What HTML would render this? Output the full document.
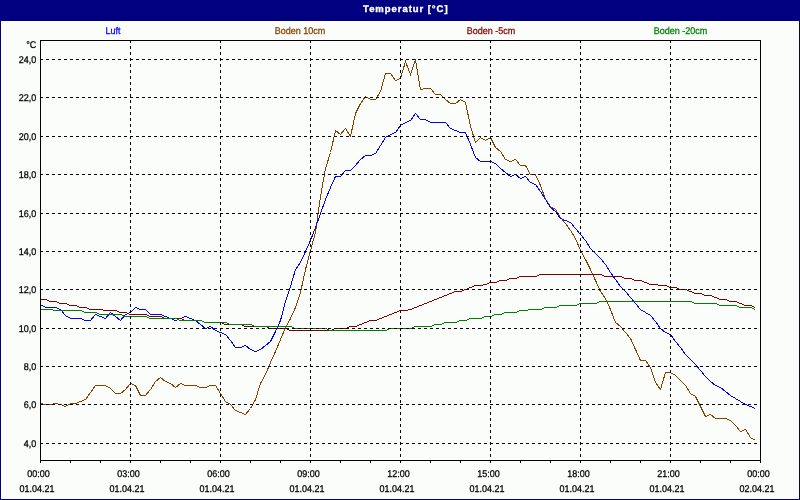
<!DOCTYPE html>
<html><head><meta charset="utf-8"><style>
html,body{margin:0;padding:0;}
body{width:800px;height:500px;background:#000080;overflow:hidden;}
svg{display:block;}
text{font-family:"Liberation Sans",sans-serif;}
</style></head><body>
<svg width="800" height="500" viewBox="0 0 800 500">
<rect x="0" y="0" width="800" height="500" fill="#000080"/>
<rect x="1" y="21" width="798" height="478" fill="#ffffff"/>
<rect x="2" y="22" width="796" height="476" fill="#fbfdfb"/>
<g style="will-change:transform;text-rendering:geometricPrecision"><text transform="translate(405.8,11.6)" text-anchor="middle" fill="#ffffff" stroke="#ffffff" stroke-width="0.35" font-size="9.5" letter-spacing="0.95" font-weight="bold">Temperatur [°C]</text></g>
<g font-size="9" style="will-change:transform;text-rendering:geometricPrecision">
<text transform="translate(113,34) scale(1,1.08)" text-anchor="middle" fill="#0000ff" stroke="#0000ff" stroke-width="0.25">Luft</text>
<text transform="translate(300,34) scale(1,1.08)" text-anchor="middle" fill="#844200" stroke="#844200" stroke-width="0.25">Boden 10cm</text>
<text transform="translate(491,34) scale(1,1.08)" text-anchor="middle" fill="#800000" stroke="#800000" stroke-width="0.25">Boden -5cm</text>
<text transform="translate(680.5,34) scale(1,1.08)" text-anchor="middle" fill="#008000" stroke="#008000" stroke-width="0.25">Boden -20cm</text>
<text transform="translate(36.3,48) scale(1,1.08)" text-anchor="end" fill="#000" stroke="#000" stroke-width="0.25">°C</text>
<text transform="translate(36.3,63) scale(1,1.08)" text-anchor="end" fill="#000" stroke="#000" stroke-width="0.25">24,0</text>
<text transform="translate(36.3,101) scale(1,1.08)" text-anchor="end" fill="#000" stroke="#000" stroke-width="0.25">22,0</text>
<text transform="translate(36.3,140) scale(1,1.08)" text-anchor="end" fill="#000" stroke="#000" stroke-width="0.25">20,0</text>
<text transform="translate(36.3,178) scale(1,1.08)" text-anchor="end" fill="#000" stroke="#000" stroke-width="0.25">18,0</text>
<text transform="translate(36.3,217) scale(1,1.08)" text-anchor="end" fill="#000" stroke="#000" stroke-width="0.25">16,0</text>
<text transform="translate(36.3,255) scale(1,1.08)" text-anchor="end" fill="#000" stroke="#000" stroke-width="0.25">14,0</text>
<text transform="translate(36.3,293) scale(1,1.08)" text-anchor="end" fill="#000" stroke="#000" stroke-width="0.25">12,0</text>
<text transform="translate(36.3,332) scale(1,1.08)" text-anchor="end" fill="#000" stroke="#000" stroke-width="0.25">10,0</text>
<text transform="translate(36.3,370) scale(1,1.08)" text-anchor="end" fill="#000" stroke="#000" stroke-width="0.25">8,0</text>
<text transform="translate(36.3,408) scale(1,1.08)" text-anchor="end" fill="#000" stroke="#000" stroke-width="0.25">6,0</text>
<text transform="translate(36.3,447) scale(1,1.08)" text-anchor="end" fill="#000" stroke="#000" stroke-width="0.25">4,0</text>
<text transform="translate(38.5,477) scale(1,1.08)" text-anchor="middle" fill="#000" stroke="#000" stroke-width="0.25">00:00</text>
<text transform="translate(37.0,492) scale(1,1.08)" text-anchor="middle" fill="#000" stroke="#000" stroke-width="0.25">01.04.21</text>
<text transform="translate(128.5,477) scale(1,1.08)" text-anchor="middle" fill="#000" stroke="#000" stroke-width="0.25">03:00</text>
<text transform="translate(127.0,492) scale(1,1.08)" text-anchor="middle" fill="#000" stroke="#000" stroke-width="0.25">01.04.21</text>
<text transform="translate(218.5,477) scale(1,1.08)" text-anchor="middle" fill="#000" stroke="#000" stroke-width="0.25">06:00</text>
<text transform="translate(217.0,492) scale(1,1.08)" text-anchor="middle" fill="#000" stroke="#000" stroke-width="0.25">01.04.21</text>
<text transform="translate(308.5,477) scale(1,1.08)" text-anchor="middle" fill="#000" stroke="#000" stroke-width="0.25">09:00</text>
<text transform="translate(307.0,492) scale(1,1.08)" text-anchor="middle" fill="#000" stroke="#000" stroke-width="0.25">01.04.21</text>
<text transform="translate(398.5,477) scale(1,1.08)" text-anchor="middle" fill="#000" stroke="#000" stroke-width="0.25">12:00</text>
<text transform="translate(397.0,492) scale(1,1.08)" text-anchor="middle" fill="#000" stroke="#000" stroke-width="0.25">01.04.21</text>
<text transform="translate(488.5,477) scale(1,1.08)" text-anchor="middle" fill="#000" stroke="#000" stroke-width="0.25">15:00</text>
<text transform="translate(487.0,492) scale(1,1.08)" text-anchor="middle" fill="#000" stroke="#000" stroke-width="0.25">01.04.21</text>
<text transform="translate(578.5,477) scale(1,1.08)" text-anchor="middle" fill="#000" stroke="#000" stroke-width="0.25">18:00</text>
<text transform="translate(577.0,492) scale(1,1.08)" text-anchor="middle" fill="#000" stroke="#000" stroke-width="0.25">01.04.21</text>
<text transform="translate(668.5,477) scale(1,1.08)" text-anchor="middle" fill="#000" stroke="#000" stroke-width="0.25">21:00</text>
<text transform="translate(667.0,492) scale(1,1.08)" text-anchor="middle" fill="#000" stroke="#000" stroke-width="0.25">01.04.21</text>
<text transform="translate(758.5,477) scale(1,1.08)" text-anchor="middle" fill="#000" stroke="#000" stroke-width="0.25">00:00</text>
<text transform="translate(757.0,492) scale(1,1.08)" text-anchor="middle" fill="#000" stroke="#000" stroke-width="0.25">02.04.21</text>
</g>
<g fill="none" stroke-width="1" shape-rendering="crispEdges">
<path d="M40.5,403.5 L45.5,404.5 L50.5,404.5 L55.5,403.5 L60.5,404.5 L65.5,406.5 L70.5,403.5 L75.5,403.5 L80.5,401.5 L85.5,399.5 L90.5,392.5 L95.5,385.5 L100.5,385.5 L105.5,385.5 L110.5,388.5 L115.5,393.5 L120.5,393.5 L125.5,389.5 L130.5,383.5 L135.5,385.5 L140.5,395.5 L145.5,395.5 L150.5,389.5 L155.5,381.5 L160.5,377.5 L165.5,381.5 L170.5,383.5 L175.5,387.5 L180.5,383.5 L185.5,385.5 L190.5,385.5 L195.5,385.5 L200.5,387.5 L205.5,387.5 L210.5,385.5 L215.5,385.5 L220.5,393.5 L225.5,401.5 L230.5,404.5 L235.5,410.5 L240.5,412.5 L245.5,414.5 L250.5,408.5 L255.5,399.5 L260.5,383.5 L265.5,374.5 L270.5,362.5 L275.5,351.5 L280.5,339.5 L285.5,327.5 L290.5,318.5 L295.5,307.5 L300.5,292.5 L305.5,269.5 L310.5,250.5 L315.5,232.5 L320.5,196.5 L325.5,168.5 L330.5,152.5 L335.5,130.5 L340.5,134.5 L345.5,128.5 L350.5,136.5 L355.5,113.5 L360.5,103.5 L365.5,96.5 L370.5,99.5 L375.5,99.5 L380.5,91.5 L385.5,73.5 L390.5,73.5 L395.5,80.5 L400.5,78.5 L405.5,61.5 L410.5,74.5 L415.5,59.5 L420.5,89.5 L425.5,88.5 L430.5,88.5 L435.5,94.5 L440.5,94.5 L445.5,99.5 L450.5,103.5 L455.5,103.5 L460.5,99.5 L465.5,102.5 L470.5,126.5 L475.5,142.5 L480.5,137.5 L485.5,140.5 L490.5,137.5 L495.5,147.5 L500.5,151.5 L505.5,159.5 L510.5,161.5 L515.5,159.5 L520.5,165.5 L525.5,165.5 L530.5,174.5 L535.5,174.5 L540.5,185.5 L545.5,199.5 L550.5,206.5 L555.5,209.5 L560.5,217.5 L565.5,223.5 L570.5,230.5 L575.5,238.5 L580.5,250.5 L585.5,259.5 L590.5,269.5 L595.5,280.5 L600.5,291.5 L605.5,298.5 L610.5,309.5 L615.5,322.5 L620.5,326.5 L625.5,332.5 L630.5,338.5 L635.5,349.5 L640.5,360.5 L645.5,360.5 L650.5,367.5 L655.5,382.5 L660.5,389.5 L665.5,372.5 L670.5,372.5 L675.5,375.5 L680.5,380.5 L685.5,385.5 L690.5,393.5 L695.5,396.5 L700.5,406.5 L705.5,416.5 L710.5,414.5 L715.5,418.5 L720.5,418.5 L725.5,418.5 L730.5,420.5 L735.5,425.5 L740.5,431.5 L745.5,429.5 L750.5,437.5 L755.5,440.5" stroke="#844200"/>
<path d="M40.5,304.5 L45.5,307.5 L50.5,307.5 L55.5,307.5 L60.5,309.5 L65.5,315.5 L70.5,318.5 L75.5,318.5 L80.5,318.5 L85.5,320.5 L90.5,320.5 L95.5,314.5 L100.5,316.5 L105.5,318.5 L110.5,312.5 L115.5,316.5 L120.5,320.5 L125.5,314.5 L130.5,312.5 L135.5,307.5 L140.5,309.5 L145.5,309.5 L150.5,314.5 L155.5,314.5 L160.5,314.5 L165.5,316.5 L170.5,318.5 L175.5,320.5 L180.5,318.5 L185.5,316.5 L190.5,318.5 L195.5,320.5 L200.5,324.5 L205.5,328.5 L210.5,326.5 L215.5,330.5 L220.5,332.5 L225.5,334.5 L230.5,340.5 L235.5,347.5 L240.5,347.5 L245.5,345.5 L250.5,349.5 L255.5,351.5 L260.5,349.5 L265.5,345.5 L270.5,341.5 L275.5,331.5 L280.5,320.5 L285.5,301.5 L290.5,286.5 L295.5,269.5 L300.5,262.5 L305.5,251.5 L310.5,240.5 L315.5,227.5 L320.5,213.5 L325.5,199.5 L330.5,187.5 L335.5,176.5 L340.5,176.5 L345.5,170.5 L350.5,170.5 L355.5,165.5 L360.5,159.5 L365.5,155.5 L370.5,155.5 L375.5,153.5 L380.5,145.5 L385.5,137.5 L390.5,134.5 L395.5,132.5 L400.5,125.5 L405.5,122.5 L410.5,120.5 L415.5,113.5 L420.5,119.5 L425.5,119.5 L430.5,122.5 L435.5,122.5 L440.5,122.5 L445.5,122.5 L450.5,128.5 L455.5,130.5 L460.5,132.5 L465.5,132.5 L470.5,144.5 L475.5,157.5 L480.5,161.5 L485.5,161.5 L490.5,161.5 L495.5,163.5 L500.5,168.5 L505.5,172.5 L510.5,176.5 L515.5,174.5 L520.5,178.5 L525.5,176.5 L530.5,182.5 L535.5,184.5 L540.5,191.5 L545.5,199.5 L550.5,207.5 L555.5,211.5 L560.5,218.5 L565.5,220.5 L570.5,222.5 L575.5,228.5 L580.5,234.5 L585.5,240.5 L590.5,248.5 L595.5,253.5 L600.5,258.5 L605.5,264.5 L610.5,272.5 L615.5,279.5 L620.5,286.5 L625.5,291.5 L630.5,297.5 L635.5,303.5 L640.5,309.5 L645.5,312.5 L650.5,315.5 L655.5,321.5 L660.5,328.5 L665.5,332.5 L670.5,334.5 L675.5,341.5 L680.5,347.5 L685.5,354.5 L690.5,359.5 L695.5,364.5 L700.5,370.5 L705.5,376.5 L710.5,381.5 L715.5,385.5 L720.5,387.5 L725.5,391.5 L730.5,395.5 L735.5,398.5 L740.5,401.5 L745.5,404.5 L750.5,406.5 L755.5,408.5" stroke="#0000ff"/>
<path d="M40.5,299.5 L45.5,299.5 L50.5,301.5 L55.5,301.5 L60.5,303.5 L65.5,303.5 L70.5,305.5 L75.5,305.5 L80.5,307.5 L85.5,307.5 L90.5,309.5 L95.5,309.5 L100.5,309.5 L105.5,310.5 L110.5,310.5 L115.5,310.5 L120.5,312.5 L125.5,312.5 L130.5,314.5 L135.5,314.5 L140.5,314.5 L145.5,314.5 L150.5,316.5 L155.5,316.5 L160.5,316.5 L165.5,318.5 L170.5,318.5 L175.5,318.5 L180.5,318.5 L185.5,320.5 L190.5,320.5 L195.5,320.5 L200.5,320.5 L205.5,322.5 L210.5,322.5 L215.5,322.5 L220.5,322.5 L225.5,324.5 L230.5,324.5 L235.5,324.5 L240.5,324.5 L245.5,326.5 L250.5,326.5 L255.5,326.5 L260.5,326.5 L265.5,326.5 L270.5,328.5 L275.5,328.5 L280.5,328.5 L285.5,328.5 L290.5,330.5 L295.5,330.5 L300.5,330.5 L305.5,330.5 L310.5,330.5 L315.5,330.5 L320.5,330.5 L325.5,330.5 L330.5,330.5 L335.5,328.5 L340.5,328.5 L345.5,328.5 L350.5,326.5 L355.5,326.5 L360.5,324.5 L365.5,322.5 L370.5,320.5 L375.5,320.5 L380.5,318.5 L385.5,316.5 L390.5,314.5 L395.5,312.5 L400.5,310.5 L405.5,310.5 L410.5,309.5 L415.5,307.5 L420.5,305.5 L425.5,303.5 L430.5,301.5 L435.5,299.5 L440.5,297.5 L445.5,295.5 L450.5,293.5 L455.5,291.5 L460.5,291.5 L465.5,289.5 L470.5,287.5 L475.5,285.5 L480.5,285.5 L485.5,284.5 L490.5,282.5 L495.5,282.5 L500.5,280.5 L505.5,280.5 L510.5,278.5 L515.5,278.5 L520.5,276.5 L525.5,276.5 L530.5,276.5 L535.5,276.5 L540.5,274.5 L545.5,274.5 L550.5,274.5 L555.5,274.5 L560.5,274.5 L565.5,274.5 L570.5,274.5 L575.5,274.5 L580.5,274.5 L585.5,274.5 L590.5,274.5 L595.5,274.5 L600.5,274.5 L605.5,276.5 L610.5,276.5 L615.5,276.5 L620.5,276.5 L625.5,278.5 L630.5,278.5 L635.5,280.5 L640.5,280.5 L645.5,282.5 L650.5,284.5 L655.5,284.5 L660.5,285.5 L665.5,285.5 L670.5,287.5 L675.5,287.5 L680.5,289.5 L685.5,289.5 L690.5,291.5 L695.5,293.5 L700.5,293.5 L705.5,295.5 L710.5,295.5 L715.5,297.5 L720.5,299.5 L725.5,299.5 L730.5,301.5 L735.5,301.5 L740.5,303.5 L745.5,305.5 L750.5,305.5 L755.5,307.5" stroke="#800000"/>
<path d="M40.5,309.5 L45.5,309.5 L50.5,309.5 L55.5,310.5 L60.5,310.5 L65.5,310.5 L70.5,310.5 L75.5,310.5 L80.5,310.5 L85.5,312.5 L90.5,312.5 L95.5,312.5 L100.5,314.5 L105.5,314.5 L110.5,314.5 L115.5,314.5 L120.5,314.5 L125.5,316.5 L130.5,316.5 L135.5,316.5 L140.5,316.5 L145.5,316.5 L150.5,318.5 L155.5,318.5 L160.5,318.5 L165.5,318.5 L170.5,318.5 L175.5,318.5 L180.5,320.5 L185.5,320.5 L190.5,320.5 L195.5,320.5 L200.5,320.5 L205.5,322.5 L210.5,322.5 L215.5,322.5 L220.5,322.5 L225.5,322.5 L230.5,324.5 L235.5,324.5 L240.5,324.5 L245.5,324.5 L250.5,324.5 L255.5,326.5 L260.5,326.5 L265.5,326.5 L270.5,326.5 L275.5,326.5 L280.5,326.5 L285.5,326.5 L290.5,326.5 L295.5,328.5 L300.5,328.5 L305.5,328.5 L310.5,328.5 L315.5,328.5 L320.5,328.5 L325.5,328.5 L330.5,330.5 L335.5,330.5 L340.5,330.5 L345.5,330.5 L350.5,330.5 L355.5,330.5 L360.5,330.5 L365.5,330.5 L370.5,330.5 L375.5,330.5 L380.5,330.5 L385.5,330.5 L390.5,328.5 L395.5,328.5 L400.5,328.5 L405.5,328.5 L410.5,328.5 L415.5,326.5 L420.5,326.5 L425.5,326.5 L430.5,326.5 L435.5,324.5 L440.5,324.5 L445.5,322.5 L450.5,322.5 L455.5,322.5 L460.5,320.5 L465.5,320.5 L470.5,318.5 L475.5,318.5 L480.5,318.5 L485.5,316.5 L490.5,316.5 L495.5,314.5 L500.5,314.5 L505.5,312.5 L510.5,312.5 L515.5,312.5 L520.5,310.5 L525.5,310.5 L530.5,309.5 L535.5,309.5 L540.5,309.5 L545.5,307.5 L550.5,307.5 L555.5,307.5 L560.5,305.5 L565.5,305.5 L570.5,305.5 L575.5,305.5 L580.5,303.5 L585.5,303.5 L590.5,303.5 L595.5,303.5 L600.5,301.5 L605.5,301.5 L610.5,301.5 L615.5,301.5 L620.5,301.5 L625.5,301.5 L630.5,301.5 L635.5,301.5 L640.5,301.5 L645.5,301.5 L650.5,301.5 L655.5,301.5 L660.5,301.5 L665.5,301.5 L670.5,301.5 L675.5,301.5 L680.5,301.5 L685.5,301.5 L690.5,301.5 L695.5,303.5 L700.5,303.5 L705.5,303.5 L710.5,303.5 L715.5,303.5 L720.5,305.5 L725.5,305.5 L730.5,305.5 L735.5,305.5 L740.5,307.5 L745.5,307.5 L750.5,307.5 L755.5,309.5" stroke="#008000"/>
<path d="M40,59.5 H760 M40,97.5 H760 M40,136.5 H760 M40,174.5 H760 M40,213.5 H760 M40,251.5 H760 M40,289.5 H760 M40,328.5 H760 M40,366.5 H760 M40,404.5 H760 M40,443.5 H760 M130.5,40 V460 M220.5,40 V460 M310.5,40 V460 M400.5,40 V460 M490.5,40 V460 M580.5,40 V460 M670.5,40 V460" stroke="#000" stroke-dasharray="3 3"/>
<path d="M40.5,40 V460.5 H760.5 V40.5 H40 M40.5,460 V463 M70.5,460 V463 M100.5,460 V463 M130.5,460 V463 M160.5,460 V463 M190.5,460 V463 M220.5,460 V463 M250.5,460 V463 M280.5,460 V463 M310.5,460 V463 M340.5,460 V463 M370.5,460 V463 M400.5,460 V463 M430.5,460 V463 M460.5,460 V463 M490.5,460 V463 M520.5,460 V463 M550.5,460 V463 M580.5,460 V463 M610.5,460 V463 M640.5,460 V463 M670.5,460 V463 M700.5,460 V463 M730.5,460 V463 M760.5,460 V463" stroke="#000"/>
</g>
</svg>
</body></html>
